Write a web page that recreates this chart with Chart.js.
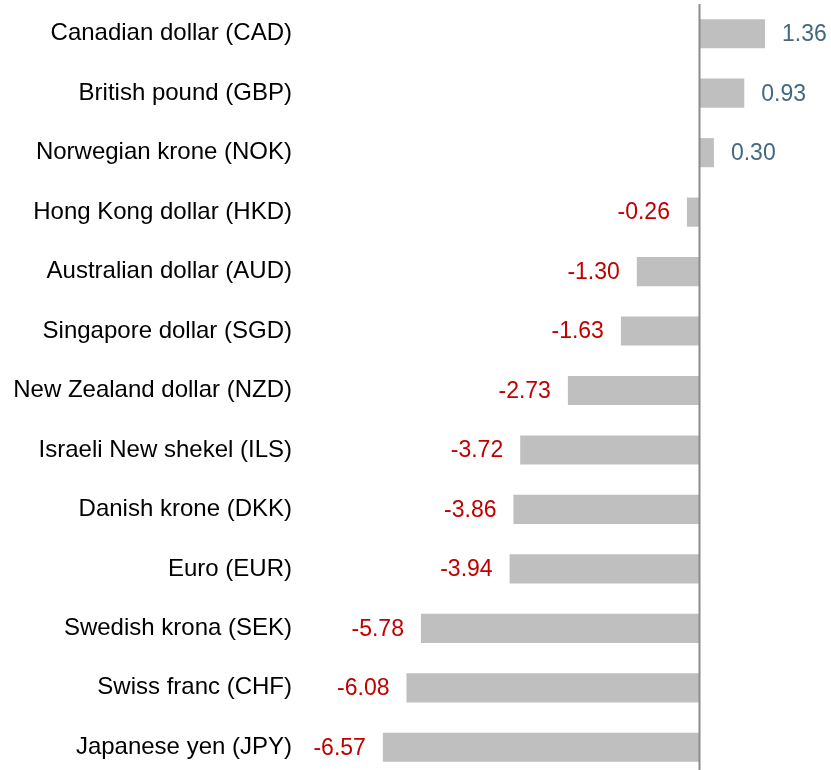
<!DOCTYPE html>
<html>
<head>
<meta charset="utf-8">
<script src="https://cdn.jsdelivr.net/npm/chart.js@4"></script>
<style>
  html, body { margin: 0; padding: 0; background: #fff; overflow: hidden; }
  #wrap { width: 831px; height: 777px; position: relative; }
</style>
</head>
<body>
<div id="wrap"><canvas id="chartOne"></canvas></div>
<script>
// currencies, top to bottom
let currencies = ['Canadian dollar (CAD)', 'British pound (GBP)', 'Norwegian krone (NOK)',
    'Hong Kong dollar (HKD)', 'Australian dollar (AUD)', 'Singapore dollar (SGD)',
    'New Zealand dollar (NZD)', 'Israeli New shekel (ILS)', 'Danish krone (DKK)',
    'Euro (EUR)', 'Swedish krona (SEK)', 'Swiss franc (CHF)', 'Japanese yen (JPY)'];
let changes = [1.36, 0.93, 0.30, -0.26, -1.30, -1.63, -2.73, -3.72, -3.86, -3.94, -5.78, -6.08, -6.57];

const fontName = "'Liberation Sans', Arial, sans-serif";

// value labels next to the bar ends
const valueLabels = {
    id: 'valueLabels',
    afterDatasetsDraw(chart) {
        const ctx = chart.ctx;
        const meta = chart.getDatasetMeta(0);
        ctx.save();
        ctx.font = '23px ' + fontName;
        ctx.textBaseline = 'middle';
        meta.data.forEach((bar, i) => {
            let v = changes[i];
            if (v >= 0) {
                ctx.fillStyle = '#44687f';
                ctx.textAlign = 'left';
                ctx.fillText(v.toFixed(2), bar.x + 17, bar.y + 1);
            } else {
                ctx.fillStyle = '#c00000';
                ctx.textAlign = 'right';
                ctx.fillText(v.toFixed(2), bar.x - 17, bar.y + 1);
            }
        });
        ctx.restore();
    }
};

// vertical zero line
const zeroLine = {
    id: 'zeroLine',
    afterDatasetsDraw(chart) {
        const ctx = chart.ctx;
        const x = Math.round(chart.scales.x.getPixelForValue(0)) + 0.5;
        ctx.save();
        ctx.strokeStyle = '#8c8c8c';
        ctx.lineWidth = 2;
        ctx.beginPath();
        ctx.moveTo(x, 4);
        ctx.lineTo(x, chart.height);
        ctx.stroke();
        ctx.restore();
    }
};

var ctx = document.getElementById('chartOne').getContext('2d');
var chartOne = new Chart(ctx, {
    type: 'bar',
    data: {
        labels: currencies,
        datasets: [{
            data: changes,
            backgroundColor: '#bfbfbf',
            borderWidth: 0,
            barPercentage: 0.49,
            categoryPercentage: 1.0
        }]
    },
    options: {
        indexAxis: 'y',
        responsive: true,
        maintainAspectRatio: false,
        animation: false,
        layout: { padding: { top: 4, left: 0, right: 0, bottom: 0 } },
        plugins: {
            legend: { display: false },
            tooltip: { enabled: false }
        },
        scales: {
            x: {
                display: false,
                min: -8.29,
                max: 2.73
            },
            y: {
                afterFit: function(scale) {
                    scale.width = 300;
                    scale.paddingTop = 0;
                    scale.paddingBottom = 0;
                },
                grid: { display: false, drawTicks: false },
                border: { display: false },
                ticks: {
                    color: '#000',
                    padding: 8,
                    font: { family: fontName, size: 24 }
                }
            }
        }
    },
    plugins: [valueLabels, zeroLine]
});
</script>
</body>
</html>
